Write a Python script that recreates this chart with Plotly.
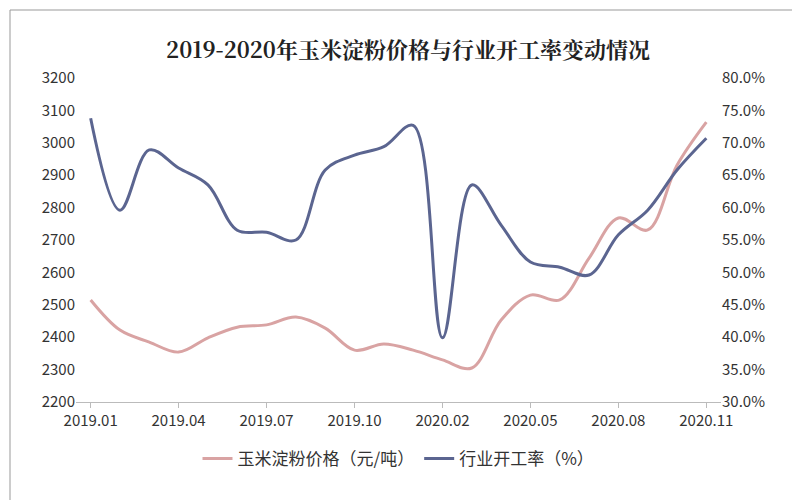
import plotly.graph_objects as go

months = ["2019.01","2019.02","2019.03","2019.04","2019.05","2019.06","2019.07","2019.08","2019.09","2019.10","2019.11","2019.12",
          "2020.02","2020.03","2020.04","2020.05","2020.06","2020.07","2020.08","2020.09","2020.10","2020.11"]
price = [2515,2422,2385,2354,2398,2431,2438,2462,2428,2360,2379,2360,2330,2305,2453,2530,2515,2644,2768,2731,2931,3064]
rate = [73.8,59.6,68.9,66.1,63.5,56.5,56.2,55.0,65.8,68.1,69.4,72.7,39.9,63.5,57.3,51.6,50.8,49.6,55.8,59.6,65.8,70.7]
tickvals = months[::3]

fig = go.Figure()
fig.add_trace(go.Scatter(x=months, y=price, name="玉米淀粉价格（元/吨）", mode="lines",
                         line=dict(color="#d9a3a3", width=3, shape="spline")))
fig.add_trace(go.Scatter(x=months, y=[r/100 for r in rate], name="行业开工率（%）", mode="lines", yaxis="y2",
                         line=dict(color="#5b6590", width=3, shape="spline")))
fig.update_layout(
    width=800, height=500, paper_bgcolor="white", plot_bgcolor="white",
    margin=dict(l=68, r=87, t=70, b=106, autoexpand=False),
    title=dict(text="<b>2019-2020年玉米淀粉价格与行业开工率变动情况</b>", x=0.5, y=0.93,
               font=dict(family="Noto Serif CJK SC, Noto Sans CJK SC, serif", size=22, color="#222")),
    font=dict(family="Noto Sans CJK SC, Liberation Sans", size=15, color="#333"),
    xaxis=dict(type="category", range=[-0.5, 21.5], tickvals=tickvals, ticktext=tickvals, showline=True, linecolor="#bbb",
               ticks="outside", tickcolor="#bbb", showgrid=False),
    yaxis=dict(range=[2200,3200], dtick=100, showgrid=False, showline=False, zeroline=False),
    yaxis2=dict(range=[0.3,0.8], dtick=0.05, tickformat=".1%", overlaying="y", side="right",
                showgrid=False, zeroline=False),
    legend=dict(orientation="h", x=0.5, xanchor="center", y=-0.12, font=dict(size=17)),
    shapes=[dict(type="rect", xref="paper", yref="paper", x0=-66/645, x1=1+85/645, y0=-104/324, y1=1+68/324,
                 line=dict(color="#999", width=1))]
)
fig.write_html("out.html")
